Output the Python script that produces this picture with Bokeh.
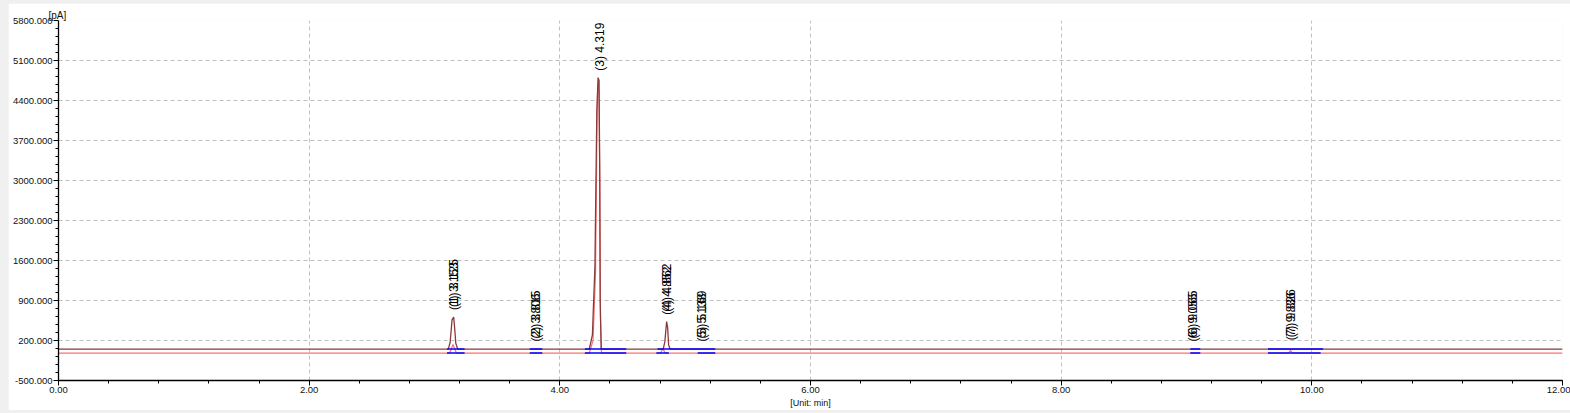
import math
from bokeh.plotting import figure
from bokeh.layouts import column
from bokeh.models import (Range1d, FixedTicker, SingleIntervalTicker, NumeralTickFormatter)
from bokeh.core.properties import value
from bokeh.embed import file_html
from bokeh.resources import INLINE

# ---------------- data ----------------
# chromatogram A (dark red)
trace_a_time = [0.00, 3.11, 3.125, 3.14, 3.153, 3.16, 3.17, 3.185,
                4.235, 4.26, 4.28, 4.295, 4.305, 4.313, 4.318, 4.322, 4.33,
                4.825, 4.838, 4.852, 4.86, 4.868, 4.88,
                12.00]
trace_a_signal = [50, 50, 170, 560, 610, 440, 150, 50,
                  50, 300, 1500, 4200, 4800, 4750, 3200, 900, 50,
                  50, 180, 530, 430, 120, 50,
                  50]

# chromatogram B (light red)
trace_b_time = [0.00, 3.12, 3.135, 3.148, 3.16, 3.175,
                4.235, 4.265, 4.285, 4.298, 4.303, 4.312, 4.319, 4.324, 4.332,
                4.805, 4.822, 4.84,
                9.815, 9.83, 9.845, 12.00]
trace_b_signal = [-20, -20, 60, 130, 60, -20,
                  -20, 200, 1400, 4300, 4650, 4550, 3000, 600, -20,
                  -20, 60, -20,
                  -20, 30, -20, -20]

# integration baselines (blue)
base_a_start = [3.10, 3.76, 4.20, 4.78, 9.03, 9.65]
base_a_end = [3.24, 3.86, 4.53, 5.24, 9.11, 10.09]
base_a_level = 50
base_b_start = [3.10, 3.76, 4.20, 4.77, 5.10, 9.03, 9.65]
base_b_end = [3.24, 3.86, 4.53, 4.87, 5.24, 9.11, 10.07]
base_b_level = -20

# peak labels
peak_time = [3.153, 3.806, 4.319, 4.852, 5.138, 9.055, 9.836]
peak_height = [610, 60, 4800, 530, 60, 60, 80]
peak_label_a = ["(1) 3.153", "(2) 3.806", "(3) 4.319", "(4) 4.852", "(5) 5.138", "(6) 9.055", "(7) 9.836"]
peak_time_b = [3.153, 3.806, 4.852, 5.138, 9.055, 9.836]
peak_height_b = [610, 60, 530, 60, 60, 80]
peak_label_b = ["(1) 3.125", "(2) 3.815", "(4) 4.862", "(5) 5.169", "(6) 9.065", "(7) 9.826"]

y_ticks = [-500, 200, 900, 1600, 2300, 3000, 3700, 4400, 5100, 5800]

# ---------------- figure ----------------
FONT = "Liberation Sans"
p = figure(width=1562, height=407, output_backend="svg", toolbar_location=None,
           x_range=Range1d(0, 12), y_range=Range1d(-500, 5800),
           min_border_left=50, min_border_right=8, min_border_top=17, min_border_bottom=30,
           title="[pA]", title_location="above")
p.outline_line_color = None
p.background_fill_color = "white"
p.border_fill_color = "white"

p.title.text_font = FONT
p.title.text_font_size = "10px"
p.title.text_font_style = "normal"
p.title.text_color = "#111111"
p.title.align = "left"
p.title.offset = -10
p.title.standoff = 0

minor = []
for a, b in zip(y_ticks[:-1], y_ticks[1:]):
    step = (b - a) / 5
    minor += [a + step * k for k in range(1, 5)]
p.yaxis.ticker = FixedTicker(ticks=y_ticks, minor_ticks=minor)
p.xaxis.ticker = SingleIntervalTicker(interval=2, num_minor_ticks=5)
p.yaxis.formatter = NumeralTickFormatter(format="0.000")
p.xaxis.formatter = NumeralTickFormatter(format="0.00")

for ax in (p.xaxis, p.yaxis):
    ax.axis_line_color = "black"
    ax.axis_line_width = 1.3
    ax.major_tick_line_color = "black"
    ax.minor_tick_line_color = "black"
    ax.major_tick_out = 5
    ax.major_tick_in = 0
    ax.minor_tick_out = 3
    ax.minor_tick_in = 0
    ax.major_label_text_font = FONT
    ax.major_label_text_font_size = "9.5px"
    ax.major_label_text_color = "#111111"
    ax.major_label_standoff = 1

p.xaxis.axis_label = "[Unit: min]"
p.xaxis.axis_label_text_font = FONT
p.xaxis.axis_label_text_font_size = "9px"
p.xaxis.axis_label_text_font_style = "normal"
p.xaxis.axis_label_text_color = "#111111"
p.xaxis.axis_label_standoff = 2

p.xgrid.grid_line_color = "#c0c0c0"
p.ygrid.grid_line_color = "#c0c0c0"
p.xgrid.grid_line_dash = "4 3"
p.ygrid.grid_line_dash = "4 3"

p.line(trace_b_time, trace_b_signal, line_color="#ff6f6f", line_width=1.2)
p.line(trace_a_time, trace_a_signal, line_color="#8b3a3a", line_width=1.3)

p.segment(x0=base_a_start, y0=[base_a_level] * len(base_a_start), x1=base_a_end,
          y1=[base_a_level] * len(base_a_end), line_color="#0000ff", line_width=1.5)
p.segment(x0=base_b_start, y0=[base_b_level] * len(base_b_start), x1=base_b_end,
          y1=[base_b_level] * len(base_b_end), line_color="#0000ff", line_width=1.5)

p.text(x=peak_time_b, y=peak_height_b, text=peak_label_b, angle=math.pi / 2,
       text_align="left", text_baseline="middle", y_offset=-10,
       text_font=value(FONT), text_font_size="12px", text_color="black")
p.text(x=peak_time, y=peak_height, text=peak_label_a, angle=math.pi / 2,
       text_align="left", text_baseline="middle", y_offset=-7,
       text_font=value(FONT), text_font_size="12px", text_color="black")

layout = column(p, styles={"background-color": "#f0f0f0", "padding-left": "8px",
                           "padding-top": "3px", "box-sizing": "border-box",
                           "width": "1570px", "height": "413px"})

open("out.html", "w").write(file_html(layout, INLINE))
